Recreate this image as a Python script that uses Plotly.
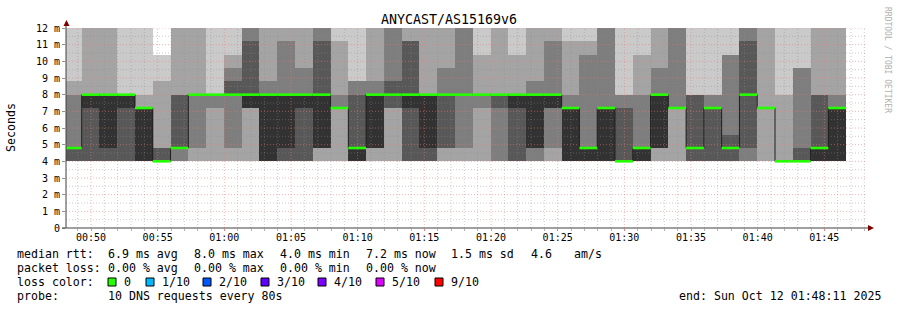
import pandas as pd
import plotly.graph_objects as go

# ---------------- data ----------------
title = "ANYCAST/AS15169v6"
first_step = "2025-10-12 00:47:58"      # start of first 80 s step
step_seconds = 80
window_start = "2025-10-12 00:48:07.5"
window_end = "2025-10-12 01:48:07.5"

# ten sorted DNS round-trip times per step (ms); 12.8 = above chart top
ping1 = [4.0, 4.0, 4.0, 4.0, 4.0, 4.0, 4.0, 4.0, 4.0, 4.0, 4.0, 4.0, 4.0, 4.0, 4.0,
         4.0, 4.0, 4.0, 4.0, 4.0, 4.0, 4.0, 4.0, 4.0, 4.0, 4.0, 4.0, 4.0, 4.0, 4.0,
         4.0, 4.0, 4.0, 4.0, 4.0, 4.0, 4.0, 4.0, 4.0, 4.0, 4.0, 4.0, 4.0, 4.0]
ping2 = [4.0, 4.0, 4.0, 4.0, 4.0, 4.0, 4.0, 4.0, 4.0, 4.0, 4.0, 4.0, 4.0, 4.0, 4.0,
         4.0, 4.0, 4.0, 4.0, 4.0, 4.0, 4.0, 4.0, 4.0, 4.0, 4.0, 4.0, 4.0, 4.0, 4.0,
         4.0, 4.0, 4.0, 4.0, 4.0, 4.0, 4.0, 4.0, 4.0, 4.0, 4.0, 4.0, 4.0, 4.0]
ping3 = [4.0, 4.0, 4.0, 4.0, 4.0, 4.0, 4.0, 4.8, 7.2, 4.8,
         7.2, 4.0, 4.0, 4.0, 4.8, 7.2, 4.0, 4.8, 7.2, 4.0,
         4.0, 4.8, 4.8, 7.2, 4.0, 4.0, 4.0, 4.8, 4.0, 4.0,
         4.0, 4.0, 4.0, 4.8, 7.2, 4.0, 4.0, 4.0, 4.0, 7.2,
         4.0, 4.0, 4.0, 4.0]
ping4 = [4.0, 4.0, 4.0, 4.0, 4.0, 4.0, 4.8, 8.0, 8.0, 8.0,
         7.2, 4.0, 4.0, 4.0, 4.8, 7.2, 4.0, 4.8, 7.2, 4.0,
         4.0, 4.8, 8.0, 8.0, 7.2, 4.0, 4.8, 7.2, 4.0, 4.0,
         4.0, 4.0, 4.0, 4.8, 7.2, 4.0, 4.0, 4.0, 4.8, 7.2,
         4.0, 4.0, 4.0, 4.0]
ping5 = [4.8, 7.2, 4.8, 7.2, 4.0, 4.0, 4.8, 8.0, 8.0, 8.0,
         7.2, 4.0, 4.8, 7.2, 4.8, 7.2, 4.0, 4.8, 8.0, 7.2,
         4.8, 8.0, 8.0, 8.0, 8.0, 7.2, 4.8, 7.2, 4.0, 4.0,
         4.0, 4.0, 4.0, 4.8, 7.2, 4.8, 7.2, 4.8, 8.0, 7.2,
         4.0, 4.0, 4.0, 4.0]
ping6 = [4.8, 8.0, 8.0, 8.0, 7.2, 4.0, 4.8, 8.0, 8.0, 8.0,
         8.0, 8.0, 8.0, 8.0, 8.0, 7.2, 4.8, 8.0, 8.0, 8.0,
         8.0, 8.0, 8.0, 8.0, 8.0, 8.0, 8.0, 8.0, 7.2, 4.8,
         7.2, 4.0, 4.8, 8.0, 7.2, 4.8, 7.2, 4.8, 8.0, 7.2,
         4.0, 4.0, 4.8, 7.2]
ping7 = [4.8, 8.0, 8.0, 8.0, 7.2, 4.8, 8.0, 8.0, 8.0, 8.8,
         11.2, 8.0, 8.0, 8.0, 11.2, 7.2, 8.0, 8.0, 8.8, 11.2,
         8.0, 8.0, 8.0, 8.0, 8.0, 8.0, 8.0, 8.0, 7.2, 4.8,
         7.2, 7.2, 4.8, 8.0, 7.2, 8.0, 7.2, 5.6, 11.2, 7.2,
         4.0, 4.8, 8.0, 7.2]
ping8 = [8.0, 8.0, 8.0, 8.0, 7.2, 4.8, 8.0, 8.0, 8.0, 9.6,
         12.8, 8.8, 11.2, 9.6, 12.8, 8.0, 8.8, 8.8, 12.8, 11.2,
         8.0, 9.6, 12.8, 8.0, 8.0, 8.0, 8.8, 11.2, 8.0, 10.4,
         12.8, 8.0, 8.0, 9.6, 12.8, 8.0, 8.0, 10.4, 12.8, 7.2,
         4.0, 9.6, 8.0, 8.0]
ping9 = [8.8, 12.8, 12.8, 8.0, 8.0, 8.8, 12.8, 12.8, 8.0, 10.4,
         12.8, 12.8, 12.8, 12.8, 12.8, 11.2, 8.8, 12.8, 12.8, 12.8,
         12.8, 12.8, 12.8, 10.4, 12.8, 10.4, 12.8, 12.8, 11.2, 11.2,
         12.8, 8.0, 10.4, 12.8, 12.8, 8.0, 8.0, 10.4, 12.8, 12.8,
         8.0, 9.6, 12.8, 12.8]
ping10 = [12.8, 12.8, 12.8, 12.8, 12.8, 10.4, 12.8, 12.8, 12.8, 12.8,
          12.8, 12.8, 12.8, 12.8, 12.8, 12.8, 12.8, 12.8, 12.8, 12.8,
          12.8, 12.8, 12.8, 12.8, 12.8, 12.8, 12.8, 12.8, 12.8, 12.8,
          12.8, 12.8, 12.8, 12.8, 12.8, 12.8, 12.8, 12.8, 12.8, 12.8,
          12.8, 12.8, 12.8, 12.8]
median_rtt = ping6

y_tick_values = [0, 1, 2, 3, 4, 5, 6, 7, 8, 9, 10, 11, 12]
y_tick_labels = ["0", "1 m", "2 m", "3 m", "4 m", "5 m", "6 m", "7 m", "8 m",
                 "9 m", "10 m", "11 m", "12 m"]

rtt_stats = ["6.9 ms avg", "8.0 ms max", "4.0 ms min", "7.2 ms now", "1.5 ms sd", "4.6", "am/s"]
loss_stats = ["0.00 % avg", "0.00 % max", "0.00 % min", "0.00 % now"]
loss_labels = ["0", "1/10", "2/10", "3/10", "4/10", "5/10", "9/10"]
loss_colors = ["#26ff00", "#00b8ff", "#0059ff", "#5e00ff", "#7e00ff", "#dd00ff", "#ff0000"]
probe_text = "10 DNS requests every 80s"
end_text = "end: Sun Oct 12 01:48:11 2025"

# ---------------- geometry / style ----------------
W, H = 897, 310
PL, PR, PT, PB = 66, 866, 28, 228
MONO = "DejaVu Sans Mono"
smoke_colors = ["#cacaca", "#a4a4a4", "#7e7e7e", "#585858", "#323232"]
MAJOR_GRID = "rgba(245,120,120,0.55)"
MINOR_GRID = "rgba(140,140,140,0.45)"
GRID_DASH = "1px,2px"


def px(x):
    return (x - PL) / (PR - PL)


def py(y):
    return (PB - y) / (PB - PT)


pings = [ping1, ping2, ping3, ping4, ping5, ping6, ping7, ping8, ping9, ping10]
n = len(ping1)
steps = pd.date_range(first_step, periods=n, freq=f"{step_seconds}s")
centers = steps + pd.Timedelta(seconds=step_seconds / 2)
step_ms = step_seconds * 1000
step_td = pd.Timedelta(seconds=step_seconds)

fig = go.Figure()

# smoke: band i spans ping_i .. ping_(11-i), outer light -> inner dark
for i in range(5):
    lo = pings[i]
    hi = pings[9 - i]
    fig.add_trace(go.Bar(
        x=centers, base=lo, y=[h - l for h, l in zip(hi, lo)], width=step_ms,
        marker=dict(color=smoke_colors[i], line=dict(width=0)),
        hoverinfo="skip"))

# grid drawn over the smoke (as rrdtool does), below the median
minutes = pd.date_range("2025-10-12 00:49", "2025-10-12 01:48", freq="1min")
for major in (False, True):
    gx, gy = [], []
    for t in minutes:
        if (t.minute % 5 == 0) == major:
            gx += [t, t, None]
            gy += [0, 12, None]
    for k in range(1, 25):
        if (k % 2 == 0) == major:
            gx += [window_start, window_end, None]
            gy += [k * 0.5, k * 0.5, None]
    fig.add_trace(go.Scatter(x=gx, y=gy, mode="lines", hoverinfo="skip", connectgaps=False,
                             line=dict(color=MAJOR_GRID if major else MINOR_GRID, width=1,
                                       dash=GRID_DASH)))

# dark median step line
xs = list(steps) + [steps[-1] + step_td]
ys = list(median_rtt) + [median_rtt[-1]]
fig.add_trace(go.Scatter(x=xs, y=ys, mode="lines", line=dict(color="#202020", width=1, shape="hv"),
                         hoverinfo="skip"))

# median coloured by loss (all 0 loss -> green), one flat segment per step
mx, my = [], []
for t, m in zip(steps, median_rtt):
    mx += [t, t + step_td, None]
    my += [m, m, None]
fig.add_trace(go.Scatter(x=mx, y=my, mode="lines", connectgaps=False, hoverinfo="skip",
                         line=dict(color=loss_colors[0], width=2.6)))

shapes = []
# axes with arrows
axis_col = "#404040"
arrow_col = "#800000"
shapes.append(dict(type="line", xref="paper", yref="paper", x0=px(62), x1=px(870), y0=0, y1=0,
                   line=dict(color=axis_col, width=1), layer="above"))
shapes.append(dict(type="line", xref="paper", yref="paper", x0=0, x1=0, y0=0, y1=py(22),
                   line=dict(color=axis_col, width=1), layer="above"))
shapes.append(dict(type="path", xref="paper", yref="paper",
                   path=f"M {px(63.5)} {py(26)} L {px(69.5)} {py(26)} L {px(66.5)} {py(20)} Z",
                   fillcolor=arrow_col, line=dict(width=0), layer="above"))
shapes.append(dict(type="path", xref="paper", yref="paper",
                   path=f"M {px(868)} {py(225)} L {px(868)} {py(231)} L {px(874)} {py(228)} Z",
                   fillcolor=arrow_col, line=dict(width=0), layer="above"))

annotations = []


def text(x, y, s, size=11.6, anchor="left", color="#000", angle=0):
    annotations.append(dict(x=px(x), y=py(y), xref="paper", yref="paper", text=s, showarrow=False,
                            xanchor=anchor, yanchor="middle", borderpad=0, textangle=angle,
                            font=dict(family=MONO, size=size, color=color)))


text(448.5, 20, title, size=13.3, anchor="center")
text(11, 127, "Seconds", anchor="center", angle=-90)
text(888, 60, "RRDTOOL / TOBI OETIKER", size=8, anchor="center", color="#b0b0b0", angle=90)

text(16, 254, "median rtt:")
for s, x in zip(rtt_stats, [107, 193, 279, 365, 450, 530, 573]):
    text(x, 254, s)
text(16, 268, "packet loss:")
for s, x in zip(loss_stats, [107, 193, 279, 365]):
    text(x, 268, s)
text(16, 282, "loss color:")
for s, c, bx in zip(loss_labels, loss_colors, [108, 146, 203, 261, 318, 376, 435]):
    shapes.append(dict(type="rect", xref="paper", yref="paper", x0=px(bx), x1=px(bx + 8),
                       y0=py(286), y1=py(278), fillcolor=c, line=dict(color="#000", width=1)))
    text(bx + 15, 282, s)
text(16, 296, "probe:")
text(107, 296, probe_text)
text(678, 296, end_text)

fig.update_layout(
    width=W, height=H, margin=dict(l=PL, r=W - PR, t=PT, b=H - PB, pad=0),
    paper_bgcolor="#ffffff", plot_bgcolor="#ffffff",
    barmode="overlay", bargap=0, showlegend=False,
    shapes=shapes, annotations=annotations,
    xaxis=dict(type="date", range=[window_start, window_end], tickformat="%H:%M",
               tick0="2025-10-12 00:50", dtick=300000, showgrid=False, zeroline=False,
               ticks="outside", ticklen=2, tickcolor="#f08080", showline=False,
               ticklabelstandoff=-2,
               tickfont=dict(family=MONO, size=10, color="#000"),
               minor=dict(dtick=60000, ticks="outside", ticklen=2, tickcolor="#b0b0b0")),
    yaxis=dict(range=[0, 12], tickvals=y_tick_values, ticktext=y_tick_labels,
               showgrid=False, zeroline=False, ticks="outside", ticklen=3, tickcolor="#909090",
               showline=False, tickfont=dict(family=MONO, size=10, color="#000")),
)

fig.write_html("out.html")
